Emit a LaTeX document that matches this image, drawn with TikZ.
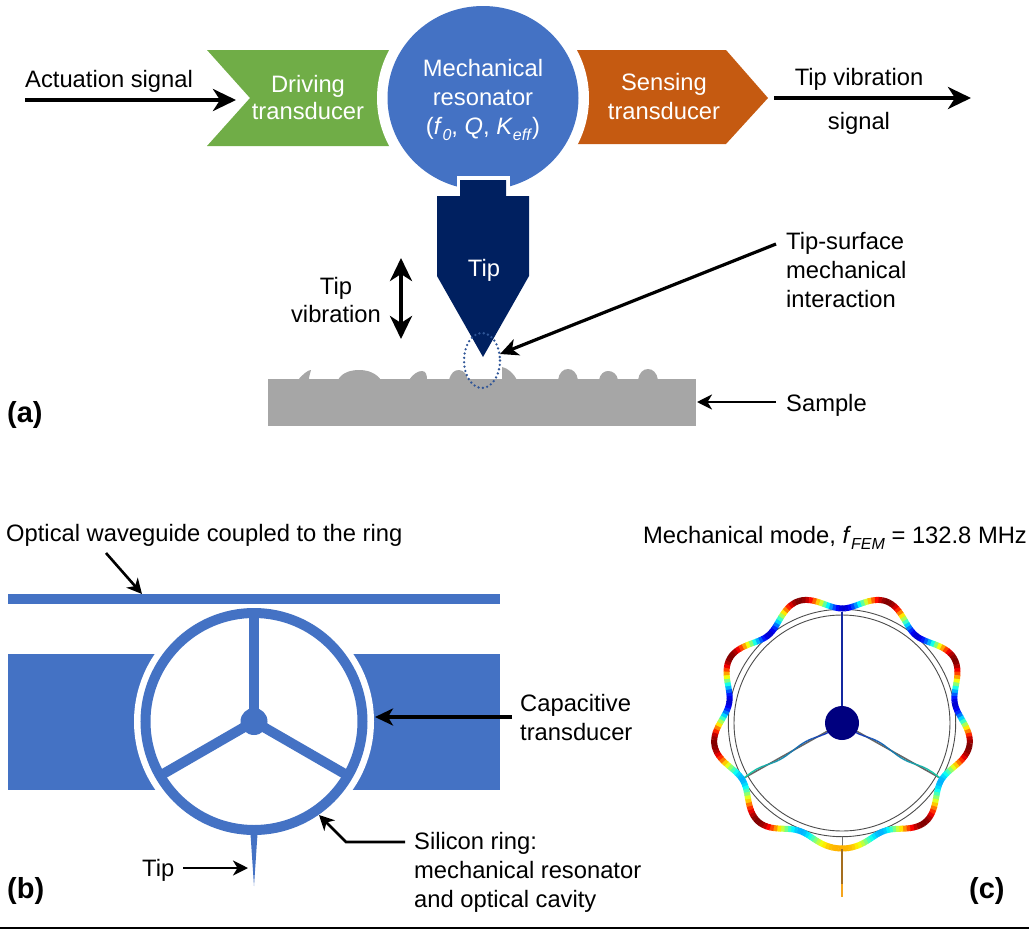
\documentclass[tikz,border=0pt]{standalone}
\usepackage{fontspec}
\setmainfont{Liberation Sans}
\usetikzlibrary{arrows.meta,shapes.geometric}
\definecolor{gr}{HTML}{70AD47}
\definecolor{og}{HTML}{C55A11}
\definecolor{bl}{HTML}{4472C4}
\definecolor{nv}{HTML}{002060}
\definecolor{sg}{HTML}{A6A6A6}
\definecolor{dt}{HTML}{2F5597}
\definecolor{hb}{HTML}{00007F}
\definecolor{spn}{RGB}{20,40,160}
\definecolor{tpa}{RGB}{165,110,30}
\definecolor{tpb}{RGB}{245,165,30}
\newcommand{\subt}[1]{\raisebox{-0.28em}{\fontsize{16}{16}\selectfont\textit{#1}}}
\tikzset{
  lab/.style={anchor=base west,inner sep=0pt,font=\fontsize{23.75}{28}\selectfont},
  clab/.style={anchor=base,inner sep=0pt,font=\fontsize{23.75}{28}\selectfont},
  wlab/.style={clab,text=white},
  plab/.style={anchor=base west,inner sep=0pt,font=\fontsize{29}{34}\selectfont\bfseries},
  bigarrow/.style={line width=3.8pt,-{Stealth[length=23pt,width=22pt,inset=7pt]}},
  dblarrow/.style={line width=3.8pt,{Stealth[length=23pt,width=22pt,inset=7pt]}-{Stealth[length=23pt,width=22pt,inset=7pt]}},
  midarrow/.style={line width=3.2pt,-{Stealth[length=18pt,width=17pt,inset=5pt]}},
  smallarrow/.style={line width=2.6pt,-{Stealth[length=15pt,width=15pt,inset=4.5pt]}}
}
\begin{document}
\begin{tikzpicture}[x=1pt,y=-1pt,
  declare function={
    bs(\t)=(\t<=180)*\t+(\t>180)*(360-\t);
    amp(\t)=7.5-4*exp(-((bs(\t)-180)/20)^2);
    rr(\t)=122-amp(\t)*cos(9*\t);
  }]
\useasboundingbox (0,0) rectangle (1029,929);
% ---------- panel a
\fill[gr] (207,50) -- (400,50) -- (400,146) -- (207,146) -- (250,98) -- cycle;
\fill[og] (570,50) -- (726,50) -- (768,98) -- (726,144) -- (570,144) -- cycle;
\fill[white] (483,98) ellipse [x radius=106,y radius=103];
\node[ellipse,fill=bl,inner sep=0pt,minimum width=191pt,minimum height=184pt] (res) at (483,98) {};
\fill[white] (457,176) rectangle (510,200);
\fill[nv] (460,180) -- (506,180) -- (506,196) -- (529,196) -- (529,276) -- (483,357) -- (437,276) -- (437,196) -- (460,196) -- cycle;
\coordinate (tipc) at (483,357);
\node[wlab] (t1) at (308,92) {Driving};
\node[wlab] (t2) at (308,119) {transducer};
\node[wlab] (t3) at (483,76) {Mechanical};
\node[wlab] (t4) at (483,105) {resonator};
\node[wlab] (t5) at (483,134) {(\textit{f}\subt{0}, \textit{Q}, \textit{K}\subt{eff})};
\node[wlab] (t6) at (664,90) {Sensing};
\node[wlab] (t7) at (664,119) {transducer};
\node[wlab] (t8) at (484,276) {Tip};
\node[lab] (act) at (25,87) {Actuation signal};
\coordinate (a1) at (25,100); \coordinate (a2) at (236,100);
\draw[bigarrow] (a1) -- (a2);
\coordinate (a3) at (774,98); \coordinate (a4) at (971,98);
\draw[bigarrow] (a3) -- (a4);
\node[clab] (tv1) at (859,85) {Tip vibration};
\node[clab] (tv2) at (859,129) {signal};
\node[clab] (v1) at (336,294) {Tip};
\node[clab] (v2) at (336,322) {vibration};
\coordinate (d1) at (401,258); \coordinate (d2) at (401,339);
\draw[dblarrow] (d1) -- (d2);
\node[lab] (s1) at (786,249) {Tip-surface};
\node[lab] (s2) at (786,278) {mechanical};
\node[lab] (s3) at (786,307) {interaction};
% sample
\fill[sg] (268,379) rectangle (696,426);
\fill[sg] (298,380) .. controls (303,374) and (308,370) .. (311,370) .. controls (310,374) and (309,376) .. (309,380) -- cycle;
\fill[sg] (338,380) .. controls (342,372) and (352,370) .. (359,370) .. controls (368,370) and (376,373) .. (381,380) -- cycle;
\fill[sg] (409,380) .. controls (413,374) and (418,371) .. (422,371) .. controls (426,371) and (427,375) .. (427,380) -- cycle;
\fill[sg] (449,380) .. controls (451,373) and (454,370) .. (459,370) .. controls (464,370) and (467,375) .. (468,380) -- cycle;
\fill[sg] (502,380) -- (502,367) .. controls (508,368) and (514,374) .. (517,380) -- cycle;
\fill[sg] (558,380) .. controls (559,373) and (563,369) .. (568,369) .. controls (573,369) and (577,373) .. (578,380) -- cycle;
\fill[sg] (599,380) .. controls (600,374) and (604,371) .. (608,371) .. controls (613,371) and (617,374) .. (618,380) -- cycle;
\fill[sg] (638,380) .. controls (639,373) and (643,369) .. (648,369) .. controls (653,369) and (657,373) .. (658,380) -- cycle;
\draw[dt,line width=2.6pt,dash pattern=on 0pt off 4.4pt,line cap=round] (482,360.5) ellipse [x radius=18,y radius=27.5];
\coordinate (b1) at (776,244); \coordinate (b2) at (500,354);
\draw[midarrow] (b1) -- (b2);
\coordinate (c1) at (776,402); \coordinate (c2) at (697,402);
\draw[smallarrow] (c1) -- (c2);
\node[lab] (sm) at (786,411) {Sample};
\node[plab] (pa) at (7,422) {(a)};
% ---------- panel b
\fill[bl] (8,654) rectangle (500,790);
\fill[white] (254,721.5) circle [radius=120];
\fill[bl] (8,594) rectangle (500,604);
\coordinate (rc) at (254,721.5);
\draw[bl,line width=10pt] (rc) circle [radius=108.5];
\draw[bl,line width=10pt] (rc) -- (254,613);
\draw[bl,line width=10pt] (rc) -- (160,775.75);
\draw[bl,line width=10pt] (rc) -- (348,775.75);
\fill[bl] (rc) circle [radius=13.5];
\fill[bl] (250.5,834) -- (257.5,834) -- (254,886) -- cycle;
\node[lab] (b0) at (6,541) {Optical waveguide coupled to the ring};
\coordinate (w1) at (106,553); \coordinate (w2) at (142,594);
\draw[smallarrow] (w1) -- (w2);
\node[lab] (b2t) at (520,711) {Capacitive};
\node[lab] (b3t) at (520,740) {transducer};
\coordinate (e1) at (512,717); \coordinate (e2) at (375,717);
\draw[midarrow] (e1) -- (e2);
\node[lab] (b4t) at (414,849) {Silicon ring:};
\node[lab] (b5t) at (414,878) {mechanical resonator};
\node[lab] (b6t) at (414,907) {and optical cavity};
\coordinate (f1) at (405,842); \coordinate (f2) at (346,842); \coordinate (f3) at (319,815);
\draw[smallarrow] (f1) -- (f2) -- (f3);
\node[lab] (b7t) at (142,876) {Tip};
\coordinate (g1) at (183,868); \coordinate (g2) at (248,868);
\draw[smallarrow] (g1) -- (g2);
\node[plab] (pb) at (7,898) {(b)};
% ---------- panel c
\node[lab] (c0) at (643,543) {Mechanical mode, \textit{f}\subt{FEM} = 132.8 MHz};
\coordinate (cc) at (842,723);
\draw[black!70,line width=0.9pt] (cc) circle [radius=113.7];
\draw[black!70,line width=0.9pt] (cc) circle [radius=108];
\draw[black!55,line width=1pt] (842,837) -- (842,848);
\draw[black!60,line width=1.6pt] (cc) -- (744,778);
\draw[black!60,line width=1.6pt] (cc) -- (940,778);
\draw[spn,line width=1.8pt] (842,612) -- (cc);
\foreach \i in {0,1,...,39}{
  \pgfmathsetmacro{\ta}{\i/40}
  \pgfmathsetmacro{\tb}{(\i+1)/40}
  \pgfmathsetmacro{\xa}{98*\ta}
  \pgfmathsetmacro{\xb}{98*\tb}
  \pgfmathsetmacro{\ya}{55*\ta+1.8*sin(\ta*720)}
  \pgfmathsetmacro{\yb}{55*\tb+1.8*sin(\tb*720)}
  \pgfmathsetmacro{\gval}{\ta*0.75+0.1}
  \pgfmathsetmacro{\bval}{0.75-0.1*\ta}
  \definecolor{spk}{rgb}{0.08,\gval,\bval}
  \draw[spk,line width=1.3pt] ({842-\xa},{723+\ya}) -- ({842-\xb},{723+\yb});
  \draw[spk,line width=1.3pt] ({842+\xa},{723+\ya}) -- ({842+\xb},{723+\yb});
}
\foreach \a in {0,1.5,...,358.5}{
  \pgfmathsetmacro{\tth}{bs(\a)}
  \pgfmathsetmacro{\wo}{(1-cos(9*\a))/2}
  \pgfmathsetmacro{\vl}{\tth<95 ? 0.08 : 0.3}
  \pgfmathsetmacro{\vh}{1-0.3*exp(-((\tth-180)/12)^2)}
  \pgfmathsetmacro{\vv}{\vl+(\vh-\vl)*\wo}
  \pgfmathsetmacro{\cred}{max(0,min(1,1.5-abs(4*\vv-3)))}
  \pgfmathsetmacro{\cgrn}{max(0,min(1,1.5-abs(4*\vv-2)))}
  \pgfmathsetmacro{\cblu}{max(0,min(1,1.5-abs(4*\vv-1)))}
  \definecolor{jt}{rgb}{\cred,\cgrn,\cblu}
  \pgfmathsetmacro{\rA}{rr(\a)}
  \pgfmathsetmacro{\rB}{rr(\a+1.7)}
  \draw[jt,line width=6pt] ({842+\rA*sin(\a)},{723-\rA*cos(\a)}) -- ({842+\rB*sin(\a+1.7)},{723-\rB*cos(\a+1.7)});
}
\node[circle,fill=hb,inner sep=0pt,minimum size=34pt] (hub) at (cc) {};
\draw[tpa,line width=2pt] (842,849) -- (842,884);
\draw[tpb,line width=2pt] (842,884) -- (842,897);
\node[plab] (pc) at (969,898) {(c)};
% bottom rule
\coordinate (l1) at (0,927.5); \coordinate (l2) at (1029,927.5);
\draw[line width=2pt] (l1) -- (l2);
\end{tikzpicture}
\end{document}
